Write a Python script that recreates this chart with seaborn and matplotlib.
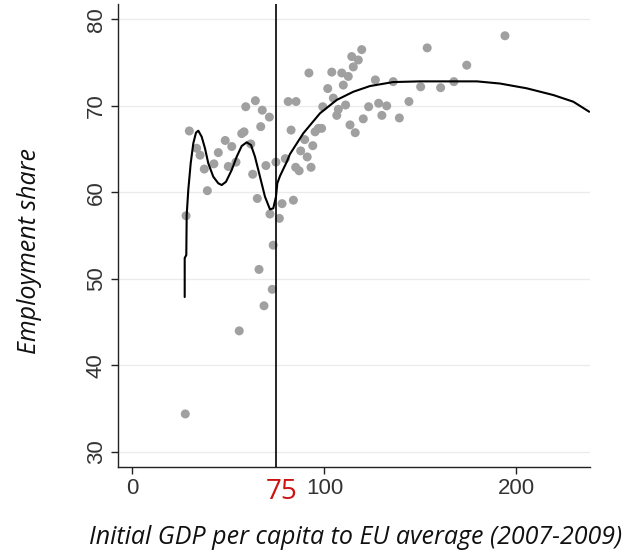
import matplotlib
matplotlib.use('Agg')
import matplotlib.pyplot as plt
import seaborn as sns
import pandas as pd

# regional scatter: initial GDP per capita (EU=100) vs employment share
gdp = [29.6, 33.4, 35.2, 37.4, 39.0, 42.4, 44.7, 48.3, 49.9, 51.7,
       53.9, 56.9, 58.1, 59.0, 61.6, 62.6, 64.0, 65.0, 66.8, 67.6,
       69.5, 71.3, 71.6, 74.7, 76.5, 77.9, 79.6, 81.1, 85.2, 82.6,
       83.8, 85.0, 86.8, 87.6, 89.7, 91.0, 91.9, 93.0, 93.9, 95.1,
       96.8, 98.5, 99.1, 101.7, 103.8, 104.6, 106.4, 107.2, 109.0, 109.8,
       111.0, 112.4, 113.3, 114.2, 115.0, 116.0, 117.6, 119.4, 120.2, 123.0,
       126.5, 128.2, 129.9, 132.4, 135.8, 139.0, 27.9, 73.3, 144.0, 150.1,
       153.5, 160.5, 167.4, 174.1, 194.0, 65.9, 72.8, 68.5, 55.6, 27.5]
employment = [67.1, 65.1, 64.3, 62.7, 60.2, 63.3, 64.6, 66.0, 63.0, 65.3,
              63.5, 66.8, 67.0, 69.9, 65.6, 62.1, 70.6, 59.3, 67.6, 69.5,
              63.1, 68.7, 57.5, 63.5, 57.0, 58.7, 63.9, 70.5, 70.5, 67.2,
              59.1, 62.9, 62.5, 64.8, 66.1, 64.1, 73.8, 62.9, 65.4, 67.0,
              67.4, 67.4, 69.9, 72.0, 73.9, 70.9, 68.9, 69.6, 73.8, 72.4,
              70.1, 73.4, 67.8, 75.7, 74.5, 66.9, 75.3, 76.5, 68.5, 69.9,
              73.0, 70.3, 68.9, 70.0, 72.8, 68.6, 57.3, 53.9, 70.5, 72.2,
              76.7, 72.1, 72.8, 74.7, 78.1, 51.1, 48.8, 46.9, 44.0, 34.4]

# fitted curve
fit_x = [27.19, 27.19, 28.02, 28.23, 29.06, 30.31, 31.67, 33.07, 34.27, 36.04,
         37.76, 39.48, 42.08, 44.69, 46.46, 48.70, 51.67, 54.27, 56.88, 59.48,
         61.72, 63.80, 66.41, 69.01, 71.61, 73.33, 74.74, 75.42, 76.82, 80.31,
         82.03, 88.96, 97.66, 106.35, 115.0, 123.7, 135.8, 149.7, 179.4, 191.4,
         205.3, 219.2, 229.6, 237.9]
fit_y = [47.91, 52.42, 52.76, 57.39, 60.28, 63.36, 65.67, 66.90, 67.13, 66.43,
         65.09, 63.36, 61.81, 61.05, 60.85, 61.23, 62.59, 64.12, 65.36, 65.79,
         65.47, 64.12, 61.81, 59.50, 58.04, 58.16, 59.50, 61.05, 61.89, 63.51,
         64.43, 66.83, 69.14, 70.68, 71.63, 72.29, 72.75, 72.83, 72.83, 72.58,
         72.03, 71.25, 70.48, 69.32]

x_ticks = [0, 100, 200]
y_ticks = [30, 40, 50, 60, 70, 80]
threshold = 75

sns.set_style('white')
plt.rcParams['font.family'] = ['Liberation Sans', 'DejaVu Sans']

df = pd.DataFrame({'gdp': gdp, 'employment': employment})
fit = pd.DataFrame({'x': fit_x, 'y': fit_y})

fig = plt.figure(figsize=(6.42, 5.54), dpi=100)
ax = fig.add_axes([118 / 642, 1 - 467 / 554, 472 / 642, 463 / 554])

for t in y_ticks:
    ax.axhline(t, color='#ebebeb', lw=1, zorder=0)

sns.scatterplot(data=df, x='gdp', y='employment', ax=ax, color='#a0a0a0',
                s=42, edgecolor='none', zorder=2)
sns.lineplot(data=fit, x='x', y='y', ax=ax, color='black', lw=1.5,
             sort=False, estimator=None, zorder=3)
ax.axvline(threshold, color='black', lw=1.2, zorder=4)

ax.set_xlim(-7.55, 238.3)
ax.set_ylim(28.27, 81.77)
ax.set_xticks(x_ticks)
ax.set_yticks(y_ticks)
ax.set_xticklabels([str(t) for t in x_ticks], fontsize=16, color='#333333')
ax.set_yticklabels([str(t) for t in y_ticks], fontsize=16, color='#333333',
                   rotation=90, va='center')
ax.tick_params(axis='both', direction='out', length=5, width=1, color='#222222',
               bottom=True, left=True, pad=3)

for side in ['top', 'right']:
    ax.spines[side].set_visible(False)
for side in ['left', 'bottom']:
    ax.spines[side].set_color('#222222')
    ax.spines[side].set_linewidth(1)

ax.set_xlabel('')
ax.set_ylabel('')

# red threshold label under the axis
ax.text(threshold + 2.5, -0.055, '75', transform=ax.get_xaxis_transform(),
        ha='center', va='center', fontsize=20, color='#cc1111',
        family=['Open Sans', 'DejaVu Sans'])

fig.text(356 / 642, 1 - 537 / 554, 'Initial GDP per capita to EU average (2007-2009)',
         ha='center', va='center', fontsize=18, style='italic', color='#111111',
         family=['Open Sans', 'DejaVu Sans'])
fig.text(30 / 642, 1 - 251 / 554, 'Employment share', rotation=90,
         ha='center', va='center', fontsize=18, style='italic', color='#111111',
         family=['Open Sans', 'DejaVu Sans'])

fig.savefig('out.png', dpi=100)
